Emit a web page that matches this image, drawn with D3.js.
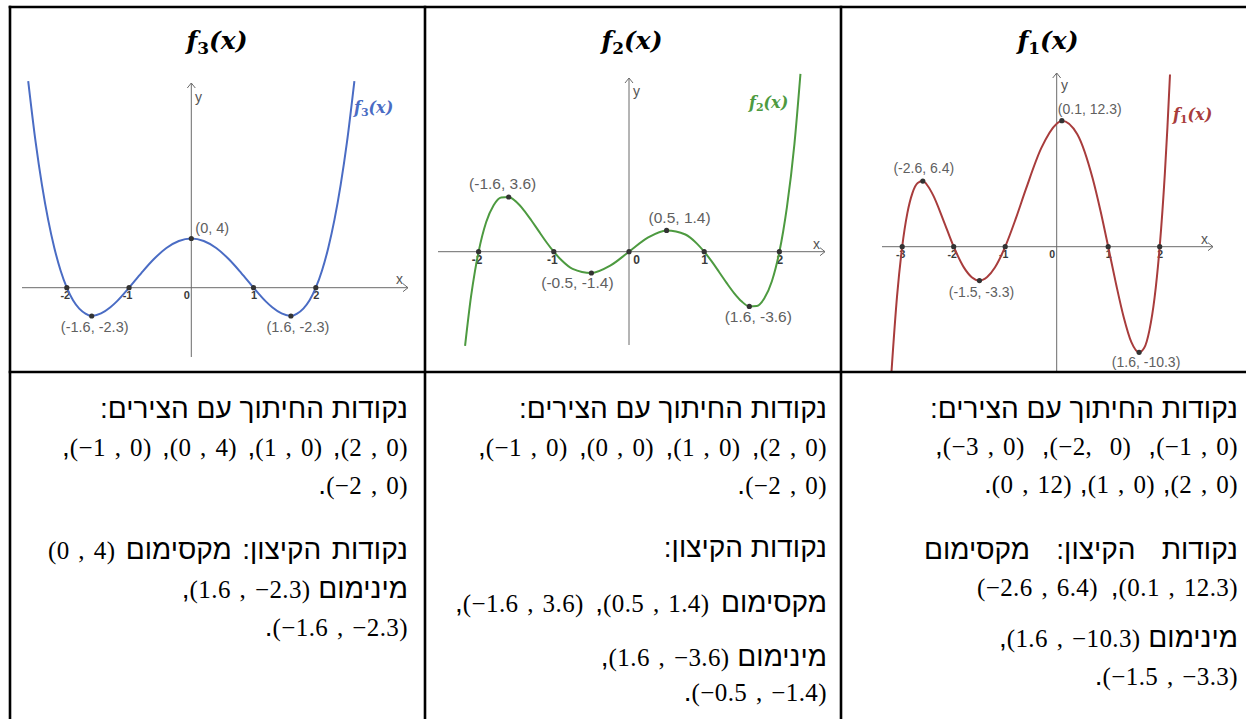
<!DOCTYPE html>
<html><head><meta charset="utf-8">
<script src="https://cdn.jsdelivr.net/npm/d3@7"></script>
<style>
html,body{margin:0;padding:0;background:#fff;}
body{width:1246px;height:719px;overflow:hidden;position:relative;}
#chart{position:absolute;left:0;top:0;}
.tl{position:absolute;direction:rtl;text-align:right;white-space:nowrap;font-family:"Liberation Sans",Arial,sans-serif;font-size:28px;line-height:30px;color:#000;}
.tl .m{font-family:"Liberation Serif","Times New Roman",serif;font-size:25px;direction:ltr;unicode-bidi:isolate;letter-spacing:0.4px;}
</style></head>
<body>
<svg id="chart" width="1246" height="719"></svg>
<div id="txt"></div>
<script>
// ---------- DATA ----------
// f3(x)
const f3X = [-2.62,-2.5,-2.4,-2.3,-2.2,-2.1,-2,-1.9,-1.8,-1.7,-1.6,-1.45,-1.3,-1.2,-1,-0.8,-0.6,-0.4,-0.2,0,0.2,0.4,0.6,0.8,1,1.2,1.3,1.45,1.6,1.7,1.8,1.9,2,2.1,2.2,2.3,2.4,2.5,2.62];
const f3Y = [16.8,11.81,8.38,5.53,3.23,1.40,0,-1.02,-1.70,-2.10,-2.3,-2.09,-1.59,-1.13,0,1.21,2.33,3.23,3.80,4,3.80,3.23,2.33,1.21,0,-1.13,-1.59,-2.09,-2.3,-2.10,-1.70,-1.02,0,1.40,3.23,5.53,8.38,11.81,16.8];
const f3PointX = [0,-1.6,1.6];
const f3PointY = [4,-2.3,-2.3];
const f3Roots = [-2,-1,1,2];
const f3Ticks = [-2,-1,0,1,2];

// f2(x)
const f2X = [-2.18,-2.1,-2.05,-2,-1.9,-1.8,-1.7,-1.6,-1.5,-1.4,-1.3,-1.2,-1.1,-1,-0.9,-0.75,-0.5,-0.25,0,0.25,0.5,0.75,0.9,1,1.1,1.2,1.3,1.4,1.5,1.6,1.7,1.8,1.9,2,2.05,2.1,2.2,2.28];
const f2Y = [-6.2,-2.93,-1.33,0,1.94,3.06,3.57,3.6,3.28,2.74,2.07,1.35,0.64,0,-0.55,-1.13,-1.4,-0.92,0,0.92,1.4,1.13,0.55,0,-0.64,-1.35,-2.07,-2.74,-3.28,-3.6,-3.57,-3.06,-1.94,0,1.33,2.93,7.1,11.7];
const f2PointX = [-1.6,0.5,-0.5,1.6];
const f2PointY = [3.6,1.4,-1.4,-3.6];
const f2Roots = [-2,-1,0,1,2];
const f2Ticks = [-2,-1,0,1,2];

// f1(x)
const f1X = [-3.22,-3.1,-3,-2.9,-2.8,-2.7,-2.6,-2.5,-2.4,-2.2,-2,-1.8,-1.65,-1.5,-1.35,-1.2,-1,-0.8,-0.6,-0.3,0,0.1,0.4,0.7,0.85,1,1.15,1.3,1.45,1.6,1.7,1.8,1.9,2,2.1,2.15,2.2];
const f1Y = [-13.1,-4.83,0,3.27,5.25,6.21,6.4,5.9,5.03,2.58,0,-2.04,-2.97,-3.3,-2.95,-2.03,0,2.66,5.59,9.61,12,12.3,10.97,6.62,3.50,0,-3.58,-6.85,-9.31,-10.3,-9.87,-8.16,-5.0,0,7.13,11.64,16.8];
const f1PointX = [-2.6,0.1,-1.5,1.6];
const f1PointY = [6.4,12.3,-3.3,-10.3];
const f1Roots = [-3,-2,-1,1,2];
const f1Ticks = [-3,-2,-1,0,1,2];

// Hebrew text of the lower row ({...} = math expression)
const textF3 = [
  "נקודות החיתוך עם הצירים:",
  "{(2 , 0)}, {(1 , 0)}, {(0 , 4)}, {(−1 , 0)},",
  "{(−2 , 0)}.",
  "נקודות הקיצון: מקסימום {(0 , 4)}",
  "מינימום {(1.6 , −2.3)},",
  "{(−1.6 , −2.3)}."
];
const textF2 = [
  "נקודות החיתוך עם הצירים:",
  "{(2 , 0)}, {(1 , 0)}, {(0 , 0)}, {(−1 , 0)},",
  "{(−2 , 0)}.",
  "נקודות הקיצון:",
  "מקסימום {(0.5 , 1.4)}, {(−1.6 , 3.6)},",
  "מינימום {(1.6 , −3.6)},",
  "{(−0.5 , −1.4)}."
];
const textF1 = [
  "נקודות החיתוך עם הצירים:",
  "{(−1 , 0)}, {(−2,  0)}, {(−3 , 0)},",
  "{(2 , 0)}, {(1 , 0)}, {(0 , 12)}.",
  "נקודות הקיצון: מקסימום",
  "{(0.1 , 12.3)}, {(−2.6 , 6.4)}",
  "מינימום {(1.6 , −10.3)},",
  "{(−1.5 , −3.3)}."
];
const funcNames = ["3","2","1"];

// ---------- LAYOUT ----------
const svg = d3.select("#chart");
const panels = [
  {n:funcNames[0], xs:f3X, ys:f3Y, px:f3PointX, py:f3PointY, roots:f3Roots, ticks:f3Ticks, color:"#4a6cc4",
   cell:[10,7,425,372], x0:191.3, y0:287.7, ux:62.25, uy:12.3, xAxis:[22,408], yAxis:[83,357],
   title:[217,49], fname:[354,113], xName:[396,284], yName:[195,102], lsize:14.5, tsize:11, zeroDx:-5,
   offs:[[4,-6,"start"],[3,16,"middle"],[7,16,"middle"]]},
  {n:funcNames[1], xs:f2X, ys:f2Y, px:f2PointX, py:f2PointY, roots:f2Roots, ticks:f2Ticks, color:"#4d9a40",
   cell:[425,7,841,372], x0:629, y0:251.7, ux:75.2, uy:15.2, xAxis:[438,825], yAxis:[78,345],
   title:[632,49], fname:[749,108], xName:[813,249], yName:[633,96], lsize:15.5, tsize:12, zeroDx:7,
   offs:[[-6,-8,"middle"],[13,-7,"middle"],[-14,15,"middle"],[9,16,"middle"]]},
  {n:funcNames[2], xs:f1X, ys:f1Y, px:f1PointX, py:f1PointY, roots:f1Roots, ticks:f1Ticks, color:"#a83c3c",
   cell:[841,7,1246,372], x0:1056.7, y0:246.7, ux:51.5, uy:10.25, xAxis:[882,1213], yAxis:[73,372],
   title:[1048,49], fname:[1173,120], xName:[1201,244], yName:[1061,90], lsize:14, tsize:10.5, zeroDx:-5,
   offs:[[1,-8,"middle"],[-4,-7,"start"],[2,16,"middle"],[7,15,"middle"]]}
];

const defs = svg.append("defs");

panels.forEach((p,pi)=>{
  const x = d3.scaleLinear().domain([0,1]).range([p.x0, p.x0+p.ux]);
  const y = d3.scaleLinear().domain([0,1]).range([p.y0, p.y0-p.uy]);
  const [cx0,cy0,cx1,cy1] = p.cell;
  defs.append("clipPath").attr("id","clip"+pi).append("rect")
    .attr("x",cx0+2).attr("y",cy0+2).attr("width",cx1-cx0-3).attr("height",cy1-cy0-3);
  const g = svg.append("g").attr("clip-path",`url(#clip${pi})`);

  // title
  const t = svg.append("text").attr("x",p.title[0]).attr("y",p.title[1]).attr("text-anchor","middle")
    .attr("font-family","'DejaVu Serif',serif").attr("font-weight","bold").attr("font-style","italic")
    .attr("font-size",25).attr("fill","#000");
  t.append("tspan").text("f");
  t.append("tspan").attr("font-size",17).attr("dy",5).attr("font-style","normal").text(p.n);
  t.append("tspan").attr("dy",-5).text("(x)");

  // axes lines
  const ax = "#6b6b6b";
  g.append("line").attr("x1",p.xAxis[0]).attr("x2",p.xAxis[1]).attr("y1",p.y0).attr("y2",p.y0)
    .attr("stroke",ax).attr("stroke-width",1);
  g.append("path").attr("d",`M${p.xAxis[1]-5},${p.y0-4}L${p.xAxis[1]},${p.y0}L${p.xAxis[1]-5},${p.y0+4}`)
    .attr("fill","none").attr("stroke",ax).attr("stroke-width",1);
  g.append("line").attr("x1",p.x0).attr("x2",p.x0).attr("y1",p.yAxis[0]).attr("y2",p.yAxis[1])
    .attr("stroke",ax).attr("stroke-width",1);
  g.append("path").attr("d",`M${p.x0-4},${p.yAxis[0]+5}L${p.x0},${p.yAxis[0]}L${p.x0+4},${p.yAxis[0]+5}`)
    .attr("fill","none").attr("stroke",ax).attr("stroke-width",1);

  // tick labels via d3 axis
  const axG = g.append("g").attr("transform",`translate(0,${p.y0})`)
    .call(d3.axisBottom(x).tickValues(p.ticks).tickSize(0).tickPadding(4).tickFormat(d=>String(d)));
  axG.select(".domain").remove();
  axG.attr("font-family","'Liberation Sans',Arial,sans-serif").attr("font-size",p.tsize).attr("font-weight","bold");
  axG.selectAll("text").attr("fill","#3a3a3a")
    .attr("dx",d=> d===0 ? p.zeroDx : (d<0 ? -2 : 0));

  // axis names
  g.append("text").attr("x",p.xName[0]).attr("y",p.xName[1]).text("x")
    .attr("font-family","'Liberation Sans',Arial,sans-serif").attr("font-size",14).attr("fill","#555");
  g.append("text").attr("x",p.yName[0]).attr("y",p.yName[1]).text("y")
    .attr("font-family","'Liberation Sans',Arial,sans-serif").attr("font-size",14).attr("fill","#555");

  // curve
  const idx = d3.range(p.xs.length);
  g.append("path").datum(idx)
    .attr("d", d3.line().x(i=>x(p.xs[i])).y(i=>y(p.ys[i])).curve(d3.curveMonotoneX))
    .attr("fill","none").attr("stroke",p.color).attr("stroke-width",2);

  // dots
  g.selectAll(".root").data(p.roots).join("circle")
    .attr("cx",d=>x(d)).attr("cy",y(0)).attr("r",2.6).attr("fill","#333");
  g.selectAll(".kp").data(p.px).join("circle")
    .attr("cx",d=>x(d)).attr("cy",(d,i)=>y(p.py[i])).attr("r",2.6).attr("fill","#333");

  // point labels
  p.px.forEach((vx,i)=>{
    const o = p.offs[i];
    g.append("text").attr("x",x(vx)+o[0]).attr("y",y(p.py[i])+o[1]).attr("text-anchor",o[2])
      .attr("font-family","'Liberation Sans',Arial,sans-serif").attr("font-size",p.lsize).attr("fill","#606060")
      .text(`(${vx}, ${p.py[i]})`);
  });

  // function name label
  const fl = g.append("text").attr("x",p.fname[0]).attr("y",p.fname[1])
    .attr("font-family","'DejaVu Serif',serif").attr("font-weight","bold").attr("font-style","italic")
    .attr("font-size",16).attr("fill",p.color);
  fl.append("tspan").text("f");
  fl.append("tspan").attr("font-size",11).attr("dy",3).attr("font-style","normal").text(p.n);
  fl.append("tspan").attr("dy",-3).text("(x)");
});

// table borders
const borders = [[10,7,1246,7],[10,372,1246,372],[10,7,10,719],[425,7,425,719],[841,7,841,719]];
svg.append("g").selectAll("line").data(borders).join("line")
  .attr("x1",d=>d[0]).attr("y1",d=>d[1]).attr("x2",d=>d[2]).attr("y2",d=>d[3])
  .attr("stroke","#000").attr("stroke-width",2.6).attr("stroke-linecap","square");

// lower row text
const cols = [
  {lines:textF3, right:408, base:[419,457,495,560,599,637], just:{1:62,3:48}},
  {lines:textF2, right:827, base:[419,457,495,558,613,667,702], just:{1:478,4:455}},
  {lines:textF1, right:1238, base:[419,456,494,560,597,648,686], just:{1:935,3:924,4:977}}
];
const fs = 28, lh = 30;
const baseOff = (lh - 1.117*fs)/2 + 0.905*fs;
const txt = d3.select("#txt");
cols.forEach(c=>{
  c.lines.forEach((line,i)=>{
    const div = txt.append("div").attr("class","tl").attr("dir","rtl")
      .style("right",(1246-c.right)+"px").style("top",(c.base[i]-baseOff)+"px");
    line.split(/(\{[^}]*\})/).filter(s=>s.length).forEach(seg=>{
      if (seg[0]==="{") div.append("span").attr("class","m").attr("dir","ltr")
          .text(seg.slice(1,-1).replace(/ /g,"\u2004"));
      else div.append("span").text(seg);
    });
    const target = c.just[i];
    if (target !== undefined) {
      const natural = div.node().getBoundingClientRect().width;
      const want = c.right - target;
      if (want > natural + 2) {
        div.style("white-space","normal").style("width",want+"px")
           .style("text-align","justify").style("text-align-last","justify");
      }
    }
  });
});
</script>
</body></html>
